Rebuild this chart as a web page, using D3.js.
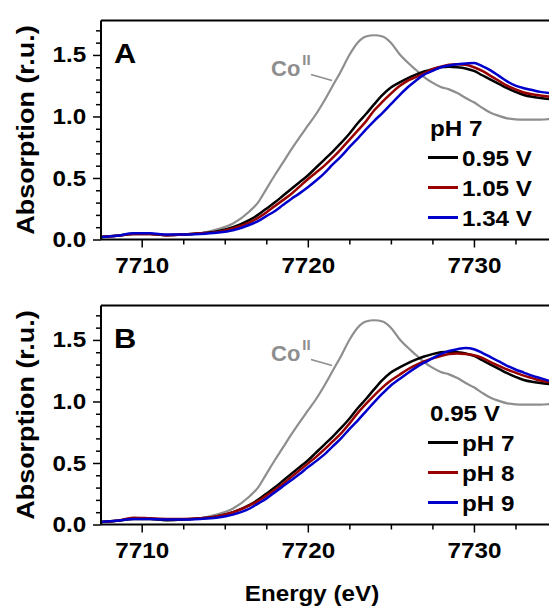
<!DOCTYPE html>
<html>
<head>
<meta charset="utf-8">
<script src="https://cdn.jsdelivr.net/npm/d3@7/dist/d3.min.js"></script>
<style>
  html, body { margin: 0; padding: 0; background: #fff; }
  svg { display: block; font-family: "Liberation Sans", Arial, sans-serif; font-weight: bold; }
</style>
</head>
<body>
<svg id="chart" width="549" height="608"></svg>
<script>
// ---------- data ----------
const energy = [7707.5, 7708.5, 7709.5, 7710.5, 7711.5, 7712.5, 7713.5, 7714.5, 7715.5, 7716.5,
  7717, 7717.5, 7718, 7718.5, 7719, 7719.5, 7720, 7720.5, 7721, 7721.5,
  7722, 7722.5, 7723, 7723.5, 7724, 7724.5, 7725, 7725.5, 7726, 7726.5,
  7727, 7727.5, 7728, 7728.5, 7729, 7729.5, 7730, 7730.5, 7731, 7731.5,
  7732, 7732.5, 7733, 7733.5, 7734, 7734.6];

const coII = [0.02, 0.03, 0.045, 0.045, 0.035, 0.04, 0.05, 0.08, 0.13, 0.23,
  0.30, 0.41, 0.52, 0.625, 0.73, 0.83, 0.925, 1.02, 1.13, 1.25,
  1.37, 1.50, 1.60, 1.65, 1.66, 1.65, 1.60, 1.51, 1.44, 1.38,
  1.32, 1.275, 1.24, 1.22, 1.19, 1.15, 1.115, 1.07, 1.03, 1.005,
  0.985, 0.977, 0.975, 0.975, 0.975, 0.98];

const v095pH7 = [0.02, 0.03, 0.045, 0.045, 0.035, 0.04, 0.05, 0.065, 0.10, 0.16,
  0.20, 0.25, 0.30, 0.355, 0.41, 0.465, 0.52, 0.585, 0.65, 0.715,
  0.785, 0.86, 0.945, 1.02, 1.10, 1.175, 1.235, 1.275, 1.31, 1.34,
  1.365, 1.385, 1.40, 1.405, 1.40, 1.39, 1.37, 1.335, 1.30, 1.265,
  1.23, 1.20, 1.175, 1.16, 1.15, 1.14];

const v105pH7 = [0.02, 0.03, 0.045, 0.045, 0.035, 0.04, 0.05, 0.06, 0.09, 0.14,
  0.175, 0.22, 0.27, 0.32, 0.37, 0.43, 0.49, 0.545, 0.60, 0.665,
  0.735, 0.81, 0.885, 0.96, 1.05, 1.12, 1.185, 1.245, 1.29, 1.32,
  1.35, 1.385, 1.405, 1.42, 1.425, 1.42, 1.40, 1.37, 1.33, 1.29,
  1.25, 1.22, 1.195, 1.18, 1.17, 1.16];

const v134pH7 = [0.02, 0.03, 0.05, 0.05, 0.04, 0.04, 0.045, 0.055, 0.075, 0.12,
  0.15, 0.19, 0.23, 0.28, 0.33, 0.375, 0.425, 0.48, 0.54, 0.61,
  0.675, 0.75, 0.82, 0.895, 0.965, 1.03, 1.10, 1.17, 1.235, 1.29,
  1.34, 1.37, 1.40, 1.415, 1.425, 1.43, 1.435, 1.41, 1.375, 1.33,
  1.285, 1.25, 1.23, 1.215, 1.20, 1.19];

const v095pH8 = [0.02, 0.03, 0.055, 0.05, 0.045, 0.045, 0.05, 0.065, 0.10, 0.155,
  0.19, 0.235, 0.28, 0.33, 0.385, 0.44, 0.495, 0.55, 0.61, 0.675,
  0.74, 0.82, 0.905, 0.98, 1.05, 1.115, 1.17, 1.215, 1.26, 1.295,
  1.325, 1.35, 1.37, 1.385, 1.39, 1.385, 1.375, 1.355, 1.32, 1.29,
  1.26, 1.235, 1.21, 1.19, 1.17, 1.155];

const v095pH9 = [0.02, 0.03, 0.045, 0.045, 0.04, 0.04, 0.045, 0.055, 0.08, 0.13,
  0.17, 0.21, 0.26, 0.31, 0.36, 0.41, 0.465, 0.515, 0.57, 0.635,
  0.70, 0.775, 0.845, 0.92, 0.995, 1.065, 1.13, 1.18, 1.23, 1.275,
  1.315, 1.35, 1.385, 1.41, 1.425, 1.435, 1.425, 1.395, 1.36, 1.325,
  1.29, 1.26, 1.235, 1.21, 1.19, 1.165];

const xTicksMajor = [7710, 7720, 7730];
const yTicksMajor = [0.0, 0.5, 1.0, 1.5];

const panelA = { letter: "A", title: "pH 7", labels: ["0.95 V", "1.05 V", "1.34 V"], series: [v095pH7, v105pH7, v134pH7] };
const panelB = { letter: "B", title: "0.95 V", labels: ["pH 7", "pH 8", "pH 9"], series: [v095pH7, v095pH8, v095pH9] };
const seriesColors = ["#000000", "#990000", "#0000cc"];
const refColor = "#8e8e8e";
const refLabel = "Co";
const refSup = "II";

// ---------- layout ----------
const svg = d3.select("#chart");
const left = 101, right = 557;
const plotH = 219;
const SX = 1.1; // horizontal text stretch
const panels = [{ cfg: panelA, top: 20.5 }, { cfg: panelB, top: 305.5 }];

const x = d3.scaleLinear().domain([7707.55, 7735]).range([left, right]);

function stretched(parent, px, py, size, str, anchor) {
  return parent.append("text")
    .attr("transform", `translate(${px},${py}) scale(${SX},1)`)
    .attr("font-size", size).attr("text-anchor", anchor || "start").text(str);
}

svg.append("defs").selectAll("clipPath").data(panels).join("clipPath")
  .attr("id", (d, i) => "clip" + i)
  .append("rect").attr("x", left).attr("y", d => d.top).attr("width", right - left).attr("height", plotH);

panels.forEach((p, i) => {
  const cfg = p.cfg;
  const y = d3.scaleLinear().domain([0, 1.78]).range([p.top + plotH, p.top]);
  const g = svg.append("g");

  // curves
  const line = d3.line().x((d, j) => x(energy[j])).y(d => y(d)).curve(d3.curveMonotoneX);
  const cg = g.append("g").attr("clip-path", `url(#clip${i})`);
  cg.append("path").attr("d", line(coII)).attr("fill", "none").attr("stroke", refColor).attr("stroke-width", 2.2);
  cfg.series.forEach((s, k) => {
    cg.append("path").attr("d", line(s)).attr("fill", "none")
      .attr("stroke", seriesColors[k]).attr("stroke-width", 2.5).attr("stroke-linejoin", "round");
  });

  // frame top line
  g.append("line").attr("x1", left).attr("x2", 549).attr("y1", p.top).attr("y2", p.top)
    .attr("stroke", "#000").attr("stroke-width", 2);

  // y axis
  const yAxis = d3.axisLeft(y).tickValues(yTicksMajor).tickSize(8).tickFormat(d3.format(".1f"));
  const ya = g.append("g").attr("transform", `translate(${left},0)`).call(yAxis);
  const yMinor = d3.range(0, 1.75, 0.1).filter(v => Math.abs(v * 2 - Math.round(v * 2)) > 1e-6);
  g.append("g").attr("transform", `translate(${left},0)`).call(d3.axisLeft(y).tickValues(yMinor).tickSize(5).tickFormat(""))
    .call(a => a.select(".domain").remove()).selectAll("line").attr("stroke-width", 1.5);
  ya.select(".domain").attr("d", `M0,${p.top}V${p.top + plotH}`).attr("stroke-width", 2);
  ya.selectAll(".tick line").attr("stroke-width", 1.5);
  ya.selectAll(".tick text").attr("font-size", 22).attr("font-weight", "bold")
    .attr("font-family", "Liberation Sans, Arial, sans-serif").attr("fill", "#000")
    .attr("x", -13.5).attr("transform", `scale(${SX},1)`);

  // x axis
  const xAxis = d3.axisBottom(x).tickValues(xTicksMajor).tickSize(8).tickFormat(d3.format("d"));
  const xa = g.append("g").attr("transform", `translate(0,${p.top + plotH})`).call(xAxis);
  const xMinor = d3.range(7710, 7735, 2.5).filter(v => v % 10 !== 0);
  g.append("g").attr("transform", `translate(0,${p.top + plotH})`).call(d3.axisBottom(x).tickValues(xMinor).tickSize(5).tickFormat(""))
    .call(a => a.select(".domain").remove()).selectAll("line").attr("stroke-width", 1.5);
  xa.select(".domain").attr("d", `M${left},0H549`).attr("stroke-width", 2);
  xa.selectAll(".tick line").attr("stroke-width", 1.5);
  xa.selectAll(".tick text").attr("font-size", 22).attr("font-weight", "bold")
    .attr("font-family", "Liberation Sans, Arial, sans-serif").attr("dy", "1.05em").attr("y", 10).attr("fill", "#000")
    .attr("transform", `scale(${SX},1)`);

  // panel letter
  stretched(g, 114, p.top + 42, 28, cfg.letter);

  // Co(II) label
  const lab = g.append("text").attr("x", 271).attr("y", p.top + 55).attr("font-size", 22).attr("fill", refColor);
  lab.append("tspan").text(refLabel);
  lab.append("tspan").attr("font-size", 15).attr("dy", -11).attr("dx", 2).text(refSup);
  g.append("line").attr("x1", 311).attr("y1", p.top + 54).attr("x2", 332).attr("y2", p.top + 60)
    .attr("stroke", refColor).attr("stroke-width", 1.8);

  // legend
  const lg = g.append("g").attr("transform", `translate(428,${p.top})`);
  stretched(lg, 2, 115, 22, cfg.title);
  cfg.labels.forEach((t, k) => {
    const yy = 137 + k * 30;
    lg.append("line").attr("x1", 0).attr("x2", 30).attr("y1", yy).attr("y2", yy)
      .attr("stroke", seriesColors[k]).attr("stroke-width", 3);
    stretched(lg, 34, yy + 8, 22, t);
  });

  // y title
  svg.append("text").attr("transform", `translate(34,${p.top + plotH / 2}) rotate(-90) scale(${SX},1)`)
    .attr("text-anchor", "middle").attr("font-size", 24.5).text("Absorption (r.u.)");
});

// x title
stretched(svg, 312, 601, 22, "Energy (eV)", "middle");
</script>
</body>
</html>
